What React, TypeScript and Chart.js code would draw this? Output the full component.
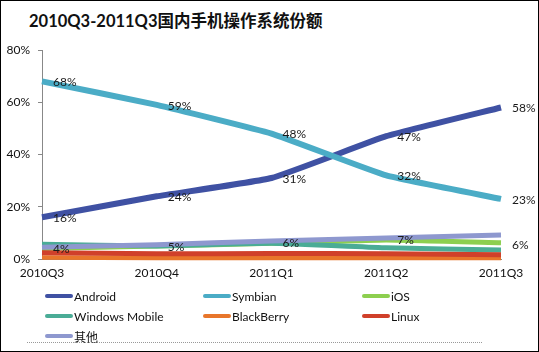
import React, { useEffect, useRef } from 'react';
import { Chart, registerables } from 'chart.js';

Chart.register(...registerables);

const title = '2010Q3-2011Q3国内手机操作系统份额';
const categories = ['2010Q3', '2010Q4', '2011Q1', '2011Q2', '2011Q3'];
const seriesNames = ['Android', 'Symbian', 'iOS', 'Windows Mobile', 'BlackBerry', 'Linux', '其他'];
const android = [16, 24, 31, 47, 58];
const symbian = [68, 59, 48, 32, 23];
const ios = [4, 5, 6, 7.3, 6.2];
const windowsMobile = [5.6, 5, 6, 4.3, 3.4];
const blackberry = [0.6, 0.4, 0.4, 0.4, 0.4];
const linux = [2.4, 2, 2.1, 2, 1.6];
const others = [4.5, 5.5, 6.9, 8, 9.2];
const seriesValues = [android, symbian, ios, windowsMobile, blackberry, linux, others];
const seriesColors = ['#3f51a3', '#4bacc6', '#8dcf4f', '#4aac96', '#e8762b', '#d0402a', '#8e98cf'];
const seriesWidths = [6, 6, 5, 5, 4.5, 5, 5];

const androidLabels = ['16%', '24%', '31%', '47%', '58%'];
const symbianLabels = ['68%', '59%', '48%', '32%', '23%'];
const iosLabels = [null, null, null, null, '6%'];
const othersLabels = ['4%', '5%', '6%', '7%', null];
const seriesLabels = [androidLabels, symbianLabels, iosLabels, null, null, null, othersLabels];

const yTicks = { min: 0, max: 80, step: 20 };

const FONT = 'Lato, "Noto Sans CJK SC", sans-serif';

const labelPlugin = {
  id: 'pointLabels',
  afterDatasetsDraw(chart: any) {
    const ctx = chart.ctx;
    ctx.save();
    ctx.font = '12px ' + FONT;
    ctx.fillStyle = '#1a1a1a';
    ctx.textAlign = 'left';
    ctx.textBaseline = 'middle';
    seriesLabels.forEach((labels, di) => {
      if (!labels) return;
      const meta = chart.getDatasetMeta(di);
      const dy = di < 2 ? 1 : 2;
      labels.forEach((t, i) => {
        if (!t) return;
        const p = meta.data[i];
        ctx.fillText(t, p.x + 11, p.y + dy);
      });
    });
    ctx.restore();
  },
};

export default function App() {
  const ref = useRef<HTMLCanvasElement | null>(null);

  useEffect(() => {
    document.body.style.margin = '0';
    if (!ref.current) return;
    const chart = new Chart(ref.current, {
      type: 'line',
      data: {
        labels: categories,
        datasets: seriesNames.map((name, i) => ({
          label: name,
          data: seriesValues[i],
          borderColor: seriesColors[i],
          backgroundColor: seriesColors[i],
          borderWidth: seriesWidths[i],
          pointRadius: 0,
          tension: 0.12,
          fill: false,
          order: seriesNames.length - i,
          clip: false as any,
        })),
      },
      options: {
        animation: false,
        responsive: false,
        maintainAspectRatio: false,
        layout: { padding: { left: 0, right: 37, top: 49, bottom: 0 } },
        plugins: {
          legend: { display: false },
          tooltip: { enabled: false },
          title: { display: false },
        },
        scales: {
          x: {
            type: 'category',
            offset: false,
            grid: { display: true, drawOnChartArea: false, drawTicks: false, color: '#888' },
            border: { display: true, color: '#888' },
            ticks: {
              font: { family: FONT, size: 12 },
              color: '#111',
              padding: 7,
              maxRotation: 0,
              autoSkip: false,
            },
            afterFit: (s: any) => {
              s.height = 32;
            },
          },
          y: {
            min: yTicks.min,
            max: yTicks.max,
            grid: { display: true, drawOnChartArea: false, drawTicks: true, tickLength: 4, color: '#888' },
            border: { display: true, color: '#888' },
            ticks: {
              stepSize: yTicks.step,
              font: { family: FONT, size: 12 },
              color: '#111',
              padding: 8,
              callback: (v: any) => v + '%',
            },
            afterFit: (s: any) => {
              s.width = 41;
            },
          },
        },
      },
      plugins: [labelPlugin],
    });
    return () => chart.destroy();
  }, []);

  const colLeft = [45, 203, 362];
  return (
    <div
      style={{
        position: 'relative',
        width: 539,
        height: 352,
        boxSizing: 'border-box',
        border: '1px solid #000',
        background: '#fff',
        overflow: 'hidden',
        fontFamily: FONT,
      }}
    >
      <div
        style={{
          position: 'absolute',
          left: 28,
          top: 10,
          fontSize: 16.5,
          lineHeight: '20px',
          fontWeight: 700,
          color: '#111',
          fontFamily: 'Lato, "Noto Sans CJK SC", sans-serif',
          whiteSpace: 'nowrap',
        }}
      >
        {title}
      </div>
      <canvas ref={ref} width={537} height={290} style={{ position: 'absolute', left: 0, top: 0 }} />
      {seriesNames.map((name, i) => {
        const col = i % 3;
        const row = Math.floor(i / 3);
        return (
          <div
            key={name}
            style={{
              position: 'absolute',
              left: colLeft[col] - 1,
              top: 285 + row * 20,
              height: 20,
              display: 'flex',
              alignItems: 'center',
              fontSize: 12,
              color: '#111',
              whiteSpace: 'nowrap',
            }}
          >
            <span
              style={{
                display: 'inline-block',
                width: 28,
                height: 4,
                borderRadius: 2,
                background: seriesColors[i],
                marginRight: 1,
              }}
            />
            <span>{name}</span>
          </div>
        );
      })}
      <div
        style={{
          position: 'absolute',
          left: 26,
          top: 341,
          width: 455,
          borderTop: '1px dotted #999',
        }}
      />
    </div>
  );
}
